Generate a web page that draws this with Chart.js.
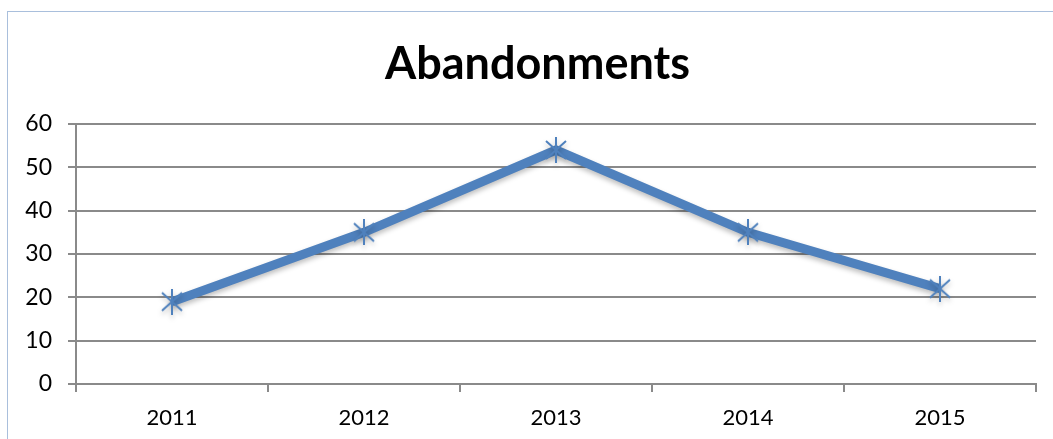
<!DOCTYPE html>
<html>
<head>
<meta charset="utf-8">
<script src="https://cdn.jsdelivr.net/npm/chart.js@4"></script>
<style>
  html, body { margin: 0; padding: 0; background: #fff; overflow: hidden; }
  #frame {
    position: absolute; left: 7px; top: 11px; width: 1200px; height: 600px;
    border-left: 1px solid #a9bfdc; border-top: 1px solid #a9bfdc;
  }
  #box { position: absolute; left: 0; top: 0; width: 1075px; height: 439px; }
</style>
</head>
<body>
<div id="frame"></div>
<div id="box"><canvas id="graficoLinha"></canvas></div>
<script>
const years = ["2011", "2012", "2013", "2014", "2015"];
const abandonments = [19, 35, 54, 35, 22];
const yTicks = [0, 10, 20, 30, 40, 50, 60];

const blue = "#4f81bd";
const gray = "#8a8a8a";

// asterisk marker (X plus a vertical bar), as in the original
const marker = document.createElement("canvas");
marker.width = 26;
marker.height = 26;
const m = marker.getContext("2d");
m.strokeStyle = blue;
m.lineWidth = 2;
m.beginPath();
m.moveTo(3, 4); m.lineTo(23, 22);
m.moveTo(23, 4); m.lineTo(3, 22);
m.moveTo(13, 0); m.lineTo(13, 26);
m.stroke();

// soft shadow under the line, like the original
const shadow = {
  id: "shadow",
  beforeDatasetDraw(chart) {
    const ctx = chart.ctx;
    ctx.save();
    ctx.shadowColor = "rgba(0, 0, 0, 0.25)";
    ctx.shadowBlur = 5;
    ctx.shadowOffsetY = 3;
  },
  afterDatasetDraw(chart) {
    chart.ctx.restore();
  },
};

// centre the title on the whole canvas, not on the padded area
const wideTitle = {
  id: "wideTitle",
  afterLayout(chart) {
    if (chart.titleBlock) {
      chart.titleBlock.left = 0;
      chart.titleBlock.right = chart.width;
    }
  },
};

new Chart(document.getElementById("graficoLinha"), {
  type: "line",
  data: {
    labels: years,
    datasets: [
      {
        data: abandonments,
        borderColor: blue,
        backgroundColor: blue,
        borderWidth: 9,
        tension: 0,
        pointStyle: marker,
        pointRadius: 13,
      },
    ],
  },
  plugins: [shadow, wideTitle],
  options: {
    responsive: true,
    maintainAspectRatio: false,
    animation: false,
    layout: {
      padding: { left: 0, right: 39, top: 0, bottom: 0 },
    },
    plugins: {
      legend: {
        display: false,
      },
      tooltip: { enabled: false },
      title: {
        display: true,
        text: "Abandonments",
        color: "#000",
        font: { family: "Lato", size: 45, weight: "bold" },
        padding: { top: 37, bottom: 33 },
      },
    },
    scales: {
      x: {
        offset: true,
        grid: {
          offset: true,
          drawOnChartArea: false,
          tickLength: 8,
          color: gray,
          lineWidth: 2,
        },
        border: { display: true, color: gray, width: 2 },
        ticks: {
          color: "#000",
          padding: 13,
          font: { family: "Lato", size: 22 },
        },
        afterFit: (axis) => { axis.height = 55; },
      },
      y: {
        min: 0,
        max: 60,
        afterBuildTicks: (axis) => {
          axis.ticks = yTicks.map((v) => ({ value: v }));
        },
        grid: {
          tickLength: 8,
          color: gray,
          lineWidth: 2,
        },
        border: { display: true, color: gray, width: 2 },
        ticks: {
          color: "#000",
          padding: 16,
          font: { family: "Lato", size: 23 },
        },
        afterFit: (axis) => { axis.width = 76; },
      },
    },
  },
});
</script>
</body>
</html>
